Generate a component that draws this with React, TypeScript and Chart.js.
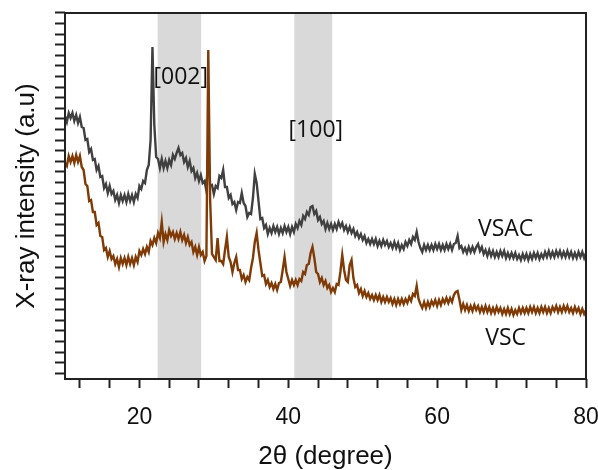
import React, { useEffect, useRef } from 'react';
import { Chart, registerables } from 'chart.js';

Chart.register(...registerables);

// 2θ sampling: 10° to 80° in 0.25° steps
const thetaStart = 10;
const thetaStep = 0.25;

// VSAC intensity (a.u.), one row per degree (4 samples per degree)
const vsac: number[] = [
  263, 257, 266, 261,
  266, 258, 264, 256,
  262, 252, 251, 239,
  240, 227, 230, 219,
  220, 209, 213, 202,
  203, 191, 195, 186,
  193, 185, 188, 179,
  184, 176, 184, 178,
  184, 177, 185, 178,
  184, 177, 185, 181,
  193, 190, 198, 196,
  209, 214, 239, 332,
  254, 222, 220, 211,
  220, 211, 218, 211,
  219, 214, 224, 220,
  226, 231, 224, 226,
  217, 221, 212, 218,
  208, 211, 201, 206,
  198, 204, 196, 198,
  188, 229, 193, 194,
  185, 193, 191, 203,
  201, 209, 192, 192,
  181, 184, 175, 177,
  169, 177, 176, 186,
  176, 173, 162, 166,
  165, 181, 205, 196,
  178, 160, 161, 151,
  154, 145, 151, 146,
  153, 147, 152, 145,
  151, 146, 153, 147,
  152, 145, 152, 147,
  155, 151, 158, 154,
  163, 160, 167, 164,
  172, 173, 165, 168,
  159, 162, 155, 158,
  150, 156, 150, 155,
  149, 155, 150, 157,
  152, 156, 149, 153,
  147, 152, 146, 150,
  143, 147, 141, 145,
  139, 143, 136, 140,
  135, 140, 135, 140,
  133, 138, 133, 139,
  134, 138, 132, 136,
  131, 137, 131, 136,
  129, 134, 130, 137,
  133, 139, 135, 142,
  139, 147, 137, 131,
  127, 134, 129, 134,
  129, 134, 129, 135,
  130, 135, 129, 134,
  129, 135, 130, 135,
  129, 135, 136, 143,
  131, 133, 127, 131,
  126, 132, 127, 132,
  127, 132, 135, 128,
  132, 125, 129, 123,
  129, 123, 128, 122,
  127, 122, 128, 123,
  128, 121, 126, 121,
  126, 121, 126, 120,
  124, 119, 125, 120,
  125, 119, 125, 120,
  126, 121, 126, 120,
  125, 121, 127, 122,
  128, 122, 127, 122,
  128, 123, 128, 122,
  127, 122, 128, 122,
  127, 121, 126, 121,
  127, 122, 127, 121,
  126,
];

// VSC intensity (a.u.), one row per degree (4 samples per degree)
const vsc: number[] = [
  216, 213, 223, 217,
  223, 216, 224, 217,
  223, 212, 209, 195,
  193, 178, 179, 167,
  167, 154, 156, 143,
  142, 129, 131, 122,
  128, 120, 123, 115,
  120, 112, 121, 115,
  121, 114, 122, 115,
  121, 114, 122, 117,
  128, 124, 130, 125,
  132, 127, 138, 134,
  141, 136, 146, 141,
  157, 137, 145, 139,
  149, 143, 147, 140,
  146, 140, 147, 139,
  144, 136, 142, 134,
  137, 127, 132, 124,
  132, 124, 127, 118,
  123, 329, 179, 125,
  122, 119, 141, 118,
  118, 115, 129, 142,
  122, 117, 107, 116,
  122, 109, 109, 100,
  104, 97, 102, 99,
  111, 121, 137, 146,
  129, 116, 103, 104,
  95, 99, 92, 96,
  90, 95, 89, 96,
  97, 109, 122, 107,
  100, 93, 99, 94,
  99, 94, 100, 98,
  107, 105, 114, 115,
  126, 132, 121, 107,
  105, 97, 101, 94,
  98, 91, 94, 87,
  91, 87, 95, 94,
  107, 124, 109, 99,
  97, 114, 119, 101,
  92, 94, 86, 90,
  83, 88, 82, 86,
  80, 84, 79, 84,
  79, 84, 77, 82,
  77, 82, 77, 81,
  75, 80, 74, 80,
  75, 80, 75, 80,
  76, 82, 78, 85,
  83, 93, 80, 75,
  71, 77, 71, 77,
  72, 78, 74, 79,
  73, 79, 74, 80,
  76, 81, 76, 81,
  77, 84, 87, 88,
  79, 69, 75, 69,
  74, 68, 73, 68,
  74, 69, 73, 67,
  72, 67, 73, 67,
  72, 66, 71, 66,
  72, 67, 71, 65,
  70, 65, 71, 65,
  70, 64, 69, 65,
  71, 66, 71, 66,
  71, 66, 72, 67,
  72, 66, 71, 66,
  72, 67, 72, 66,
  71, 66, 72, 68,
  73, 67, 72, 67,
  73, 68, 73, 67,
  71, 66, 72, 67,
  71, 65, 70, 65,
  69,
];

const xTickValues = [12, 16, 20, 24, 28, 32, 36, 40, 44, 48, 52, 56, 60, 64, 68, 72, 76, 80];
const xLabelValues = [20, 40, 60, 80];
const yTickStart = 5.7;
const yTickStep = 10.6;
const yTickCount = 35;

// shaded 2θ ranges
const bandRanges: [number, number][] = [
  [22.45, 28.3],
  [40.8, 45.9],
];

const noteTexts = ['[002]', '[100]', 'VSAC', 'VSC'];
const noteX = [25.55, 43.7, 69.2, 69.2];
const noteY = [302, 249, 150, 41];

const theta = vsac.map((_, i) => thetaStart + i * thetaStep);

export default function App() {
  const ref = useRef<HTMLCanvasElement | null>(null);

  useEffect(() => {
    if (!ref.current) return;

    const decor = {
      id: 'decor',
      beforeDatasetsDraw(chart: any) {
        const { ctx, chartArea, scales } = chart;
        const xs = scales.x;
        ctx.save();
        ctx.fillStyle = '#d9d9d9';
        bandRanges.forEach(([a, b]) => {
          const x1 = xs.getPixelForValue(a);
          const x2 = xs.getPixelForValue(b);
          ctx.fillRect(x1, chartArea.top, x2 - x1, chartArea.bottom - chartArea.top);
        });
        ctx.restore();
      },
      afterDatasetsDraw(chart: any) {
        const { ctx, chartArea, scales } = chart;
        ctx.save();
        ctx.fillStyle = '#111';
        ctx.font = '23px "Open Sans"';
        ctx.textAlign = 'center';
        ctx.textBaseline = 'middle';
        noteTexts.forEach((t, i) => {
          ctx.fillText(t, scales.x.getPixelForValue(noteX[i]), scales.y.getPixelForValue(noteY[i]));
        });
        ctx.strokeStyle = '#222';
        ctx.lineWidth = 2;
        ctx.strokeRect(chartArea.left, chartArea.top, chartArea.right - chartArea.left, chartArea.bottom - chartArea.top);
        ctx.restore();
      },
    };

    const chart = new Chart(ref.current, {
      type: 'line',
      data: {
        datasets: [
          {
            label: 'VSC',
            data: theta.map((t, i) => ({ x: t, y: vsc[i] })),
            borderColor: '#7f3a06',
            borderWidth: 2.4,
            pointRadius: 0,
            tension: 0,
          },
          {
            label: 'VSAC',
            data: theta.map((t, i) => ({ x: t, y: vsac[i] })),
            borderColor: '#404040',
            borderWidth: 2.4,
            pointRadius: 0,
            tension: 0,
          },
        ],
      },
      options: {
        responsive: false,
        animation: false,
        events: [],
        layout: { padding: { left: 0, top: 13, right: 12, bottom: 0 } },
        plugins: { legend: { display: false }, tooltip: { enabled: false } },
        scales: {
          x: {
            type: 'linear',
            min: 10,
            max: 80,
            border: { display: false },
            grid: {
              display: true,
              drawOnChartArea: false,
              drawTicks: true,
              tickLength: 9,
              tickColor: '#222',
              tickWidth: 2,
            },
            afterBuildTicks: (scale: any) => {
              scale.ticks = xTickValues.map((v) => ({ value: v }));
            },
            afterFit: (scale: any) => {
              scale.height = 91;
              scale.paddingRight = 0;
              scale.paddingLeft = 0;
            },
            ticks: {
              autoSkip: false,
              maxRotation: 0,
              padding: 16,
              color: '#111',
              font: { family: '"Liberation Sans", Arial, sans-serif', size: 23 },
              callback: (v: any) => (xLabelValues.includes(Number(v)) ? String(v) : ''),
            },
            title: {
              display: true,
              text: '2θ (degree)',
              color: '#111',
              font: { family: '"Liberation Sans", Arial, sans-serif', size: 26, lineHeight: 1 },
              padding: { top: 0, bottom: 0 },
            },
          },
          y: {
            type: 'linear',
            min: 0,
            max: 366,
            border: { display: false },
            grid: {
              display: true,
              drawOnChartArea: false,
              drawTicks: true,
              tickLength: 10,
              tickColor: '#222',
              tickWidth: 2,
            },
            afterBuildTicks: (scale: any) => {
              const arr: any[] = [];
              for (let k = 0; k < yTickCount; k++) arr.push({ value: yTickStart + k * yTickStep });
              scale.ticks = arr;
            },
            afterFit: (scale: any) => {
              scale.width = 65;
              scale.paddingTop = 0;
              scale.paddingBottom = 0;
            },
            ticks: {
              autoSkip: false,
              callback: () => '',
            },
            title: {
              display: true,
              text: 'X-ray intensity (a.u)',
              color: '#111',
              font: { family: '"Liberation Sans", Arial, sans-serif', size: 26, lineHeight: 1 },
              padding: { top: 14, bottom: 0 },
            },
          },
        },
      },
      plugins: [decor],
    } as any);

    return () => chart.destroy();
  }, []);

  return (
    <div style={{ position: 'fixed', left: 0, top: 0, width: 598, height: 470, background: '#fff' }}>
      <canvas ref={ref} width={598} height={470} style={{ width: 598, height: 470 }} />
    </div>
  );
}
